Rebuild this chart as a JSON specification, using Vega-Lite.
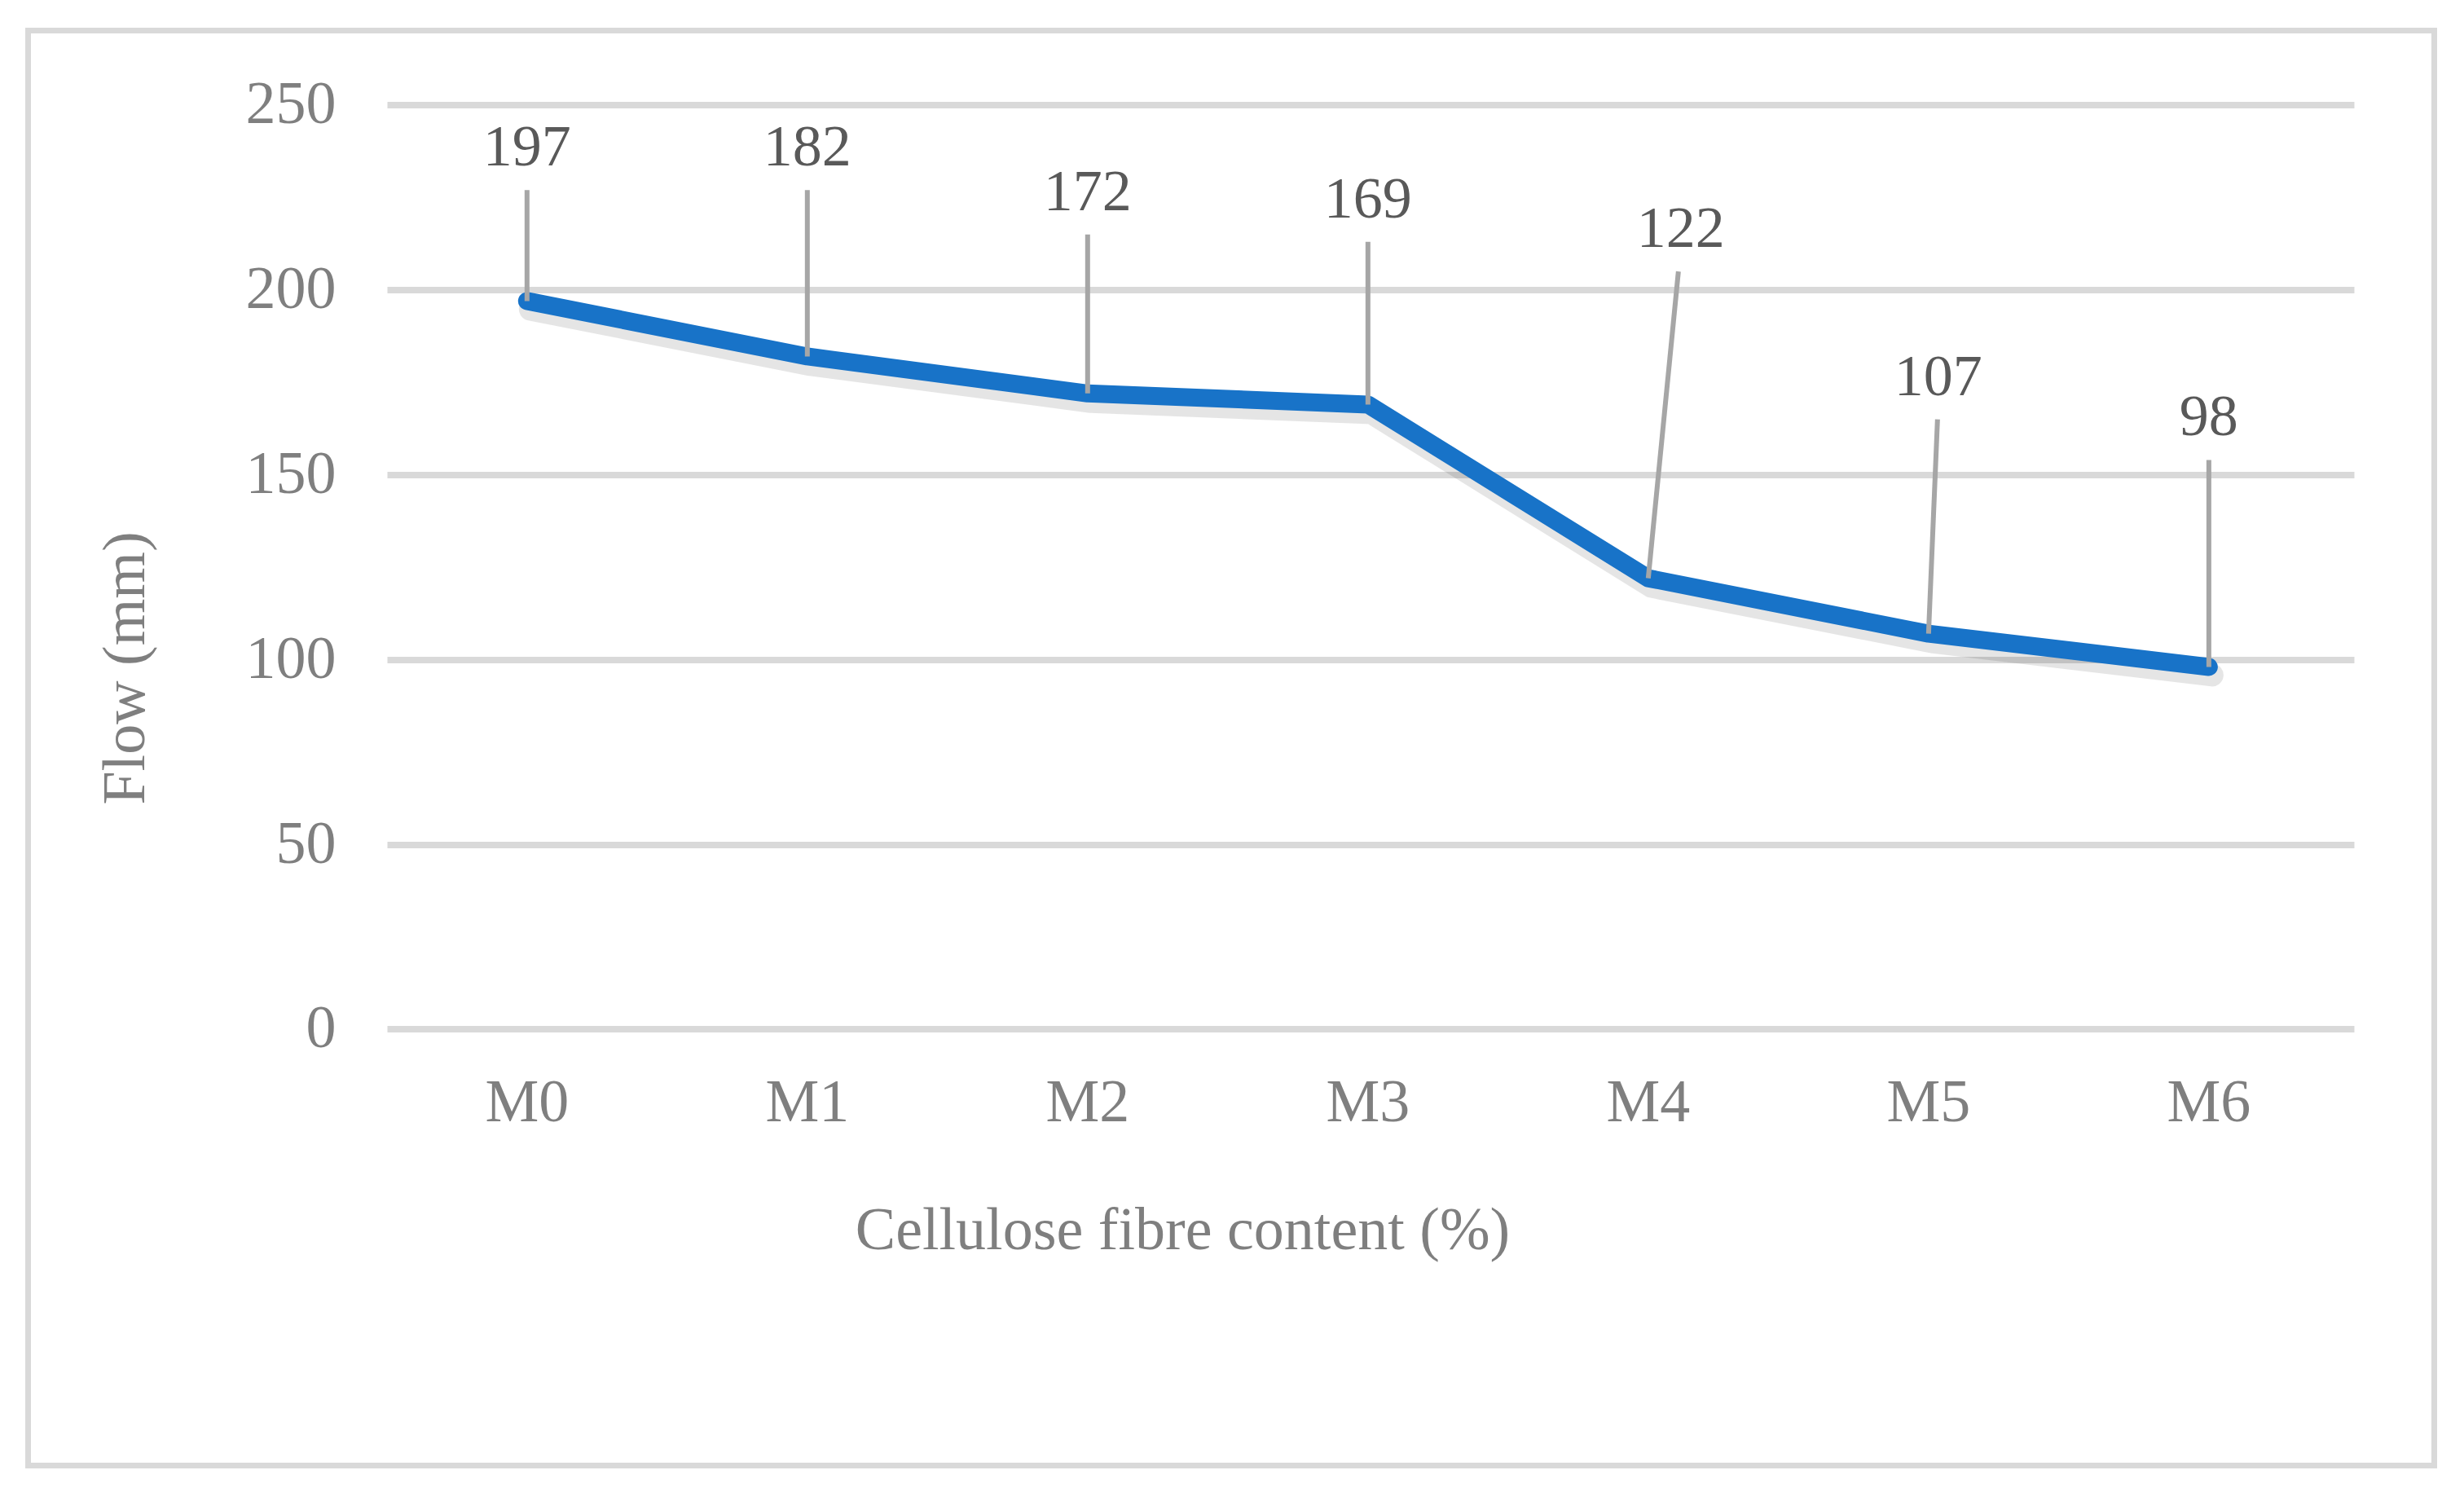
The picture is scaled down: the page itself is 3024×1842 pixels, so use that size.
{
  "$schema": "https://vega.github.io/schema/vega-lite/v6.json",
  "autosize": {"type": "none"},
  "padding": {"left": 34.5, "top": 37.5, "right": 36.5, "bottom": 43.5},
  "width": 2953,
  "height": 1761,
  "background": "white",
  "config": {
    "view": {"stroke": "#d9d9d9", "strokeWidth": 7},
    "font": "Liberation Serif"
  },
  "data": {
    "values": [
      {"mix": "M0", "flow": 197, "labelTop": 227},
      {"mix": "M1", "flow": 182, "labelTop": 227},
      {"mix": "M2", "flow": 172, "labelTop": 215},
      {"mix": "M3", "flow": 169, "labelTop": 213},
      {"mix": "M4", "flow": 122, "labelTop": 205},
      {"mix": "M5", "flow": 107, "labelTop": 165},
      {"mix": "M6", "flow": 98, "labelTop": 154}
    ]
  },
  "encoding": {
    "x": {
      "field": "mix",
      "type": "ordinal",
      "sort": null,
      "scale": {"type": "band", "paddingInner": 0, "paddingOuter": 0.792, "align": 0.808},
      "axis": {
        "title": "Cellulose fibre content (%)",
        "offset": -535.5,
        "domain": false,
        "ticks": false,
        "tickSize": 0,
        "grid": false,
        "labelAngle": 0,
        "labelFont": "Liberation Serif",
        "labelFontSize": 74,
        "labelColor": "#7f7f7f",
        "labelBaseline": "alphabetic",
        "labelPadding": 112,
        "titleFont": "Liberation Serif",
        "titleFontSize": 74,
        "titleFontWeight": "normal",
        "titleColor": "#7f7f7f",
        "titleX": 1416.5,
        "titleY": 269,
        "titleBaseline": "alphabetic",
        "titleAlign": "center"
      }
    }
  },
  "layer": [
    {
      "mark": {"type": "line", "color": "#000000", "opacity": 0.1, "strokeWidth": 28, "xOffset": 4, "yOffset": 10, "strokeCap": "round", "strokeJoin": "round"},
      "encoding": {
        "y": {
          "field": "flow",
          "type": "quantitative",
          "scale": {"domain": [-118.06, 270.17], "nice": false, "zero": false},
          "axis": {
            "title": "Flow (mm)",
            "values": [0, 50, 100, 150, 200, 250],
            "offset": -440.5,
            "domain": false,
            "grid": false,
            "ticks": true,
            "tickSize": -2414,
            "tickColor": "#d9d9d9",
            "tickWidth": 8,
            "zindex": 0,
            "labelOverlap": false,
            "labelPadding": 2477,
            "labelFont": "Liberation Serif",
            "labelFontSize": 74,
            "labelColor": "#7f7f7f",
            "titleFont": "Liberation Serif",
            "titleFontSize": 74,
            "titleFontWeight": "normal",
            "titleColor": "#7f7f7f",
            "titleAngle": -90,
            "titleX": -321,
            "titleY": 782,
            "titleBaseline": "middle",
            "titleAlign": "center"
          }
        }
      }
    },
    {
      "mark": {"type": "line", "color": "#1873c8", "strokeWidth": 22, "strokeCap": "round", "strokeJoin": "round"},
      "encoding": {"y": {"field": "flow", "type": "quantitative"}}
    },
    {
      "transform": [{"filter": "datum.mix != 'M4' && datum.mix != 'M5'"}],
      "mark": {"type": "rule", "color": "#a6a6a6", "strokeWidth": 6},
      "encoding": {
        "y": {"field": "flow", "type": "quantitative"},
        "y2": {"field": "labelTop"}
      }
    },
    {
      "transform": [{"filter": "datum.mix == 'M4'"}],
      "mark": {"type": "rule", "color": "#a6a6a6", "strokeWidth": 6, "x2Offset": 37},
      "encoding": {
        "x2": {"field": "mix"},
        "y": {"field": "flow", "type": "quantitative"},
        "y2": {"field": "labelTop"}
      }
    },
    {
      "transform": [{"filter": "datum.mix == 'M5'"}],
      "mark": {"type": "rule", "color": "#a6a6a6", "strokeWidth": 6, "x2Offset": 11},
      "encoding": {
        "x2": {"field": "mix"},
        "y": {"field": "flow", "type": "quantitative"},
        "y2": {"field": "labelTop"}
      }
    },
    {
      "transform": [{"filter": "datum.mix != 'M4' && datum.mix != 'M5'"}],
      "mark": {"type": "text", "font": "Liberation Serif", "fontSize": 72, "color": "#595959", "baseline": "alphabetic", "dy": -30},
      "encoding": {
        "y": {"field": "labelTop", "type": "quantitative"},
        "text": {"field": "flow", "type": "quantitative"}
      }
    },
    {
      "transform": [{"filter": "datum.mix == 'M4'"}],
      "mark": {"type": "text", "font": "Liberation Serif", "fontSize": 72, "color": "#595959", "baseline": "alphabetic", "dy": -30, "dx": 40},
      "encoding": {
        "y": {"field": "labelTop", "type": "quantitative"},
        "text": {"field": "flow", "type": "quantitative"}
      }
    },
    {
      "transform": [{"filter": "datum.mix == 'M5'"}],
      "mark": {"type": "text", "font": "Liberation Serif", "fontSize": 72, "color": "#595959", "baseline": "alphabetic", "dy": -30, "dx": 12},
      "encoding": {
        "y": {"field": "labelTop", "type": "quantitative"},
        "text": {"field": "flow", "type": "quantitative"}
      }
    }
  ]
}
